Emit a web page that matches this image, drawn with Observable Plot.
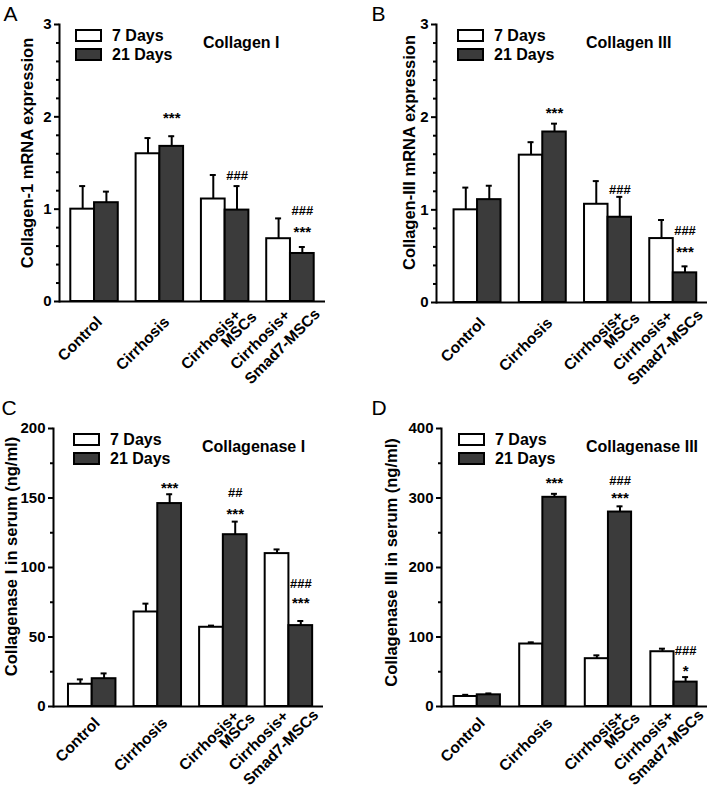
<!DOCTYPE html>
<html><head><meta charset="utf-8">
<script src="https://cdn.jsdelivr.net/npm/d3@7"></script>
<script src="https://cdn.jsdelivr.net/npm/@observablehq/plot@0.6"></script>
<style>
body{margin:0;background:#fff;}
#root{position:relative;width:709px;height:788px;overflow:hidden;font-family:"Liberation Sans",Arial,sans-serif;background:#fff;}
.panel{position:absolute;}
.panel svg{position:absolute;left:0;top:0;}
.box{position:absolute;width:27px;height:13px;border:2px solid #000;box-sizing:border-box;}
.lt{position:absolute;font-weight:bold;font-size:16px;line-height:16px;white-space:nowrap;color:#000;}
</style></head><body><div id="root"></div>
<script>
// ---- categories & series ----
const groups = ["Control", "Cirrhosis", "Cirrhosis+\nMSCs", "Cirrhosis+\nSmad7-MSCs"];
const seriesNames = ["7 Days", "21 Days"];

// ---- A: Collagen I mRNA ----
const colIMean7 = [1.00, 1.60, 1.11, 0.68];
const colISem7 = [0.25, 0.17, 0.26, 0.22];
const colIMean21 = [1.07, 1.68, 0.99, 0.52];
const colISem21 = [0.12, 0.11, 0.26, 0.07];
const colISig = [
  {group: "Cirrhosis", label: "***", y: 2.03},
  {group: "Cirrhosis+\nMSCs", label: "###", y: 1.37},
  {group: "Cirrhosis+\nSmad7-MSCs", label: "###", y: 0.99},
  {group: "Cirrhosis+\nSmad7-MSCs", label: "***", y: 0.79}
];
const colITicks = [0, 1, 2, 3];

// ---- B: Collagen III mRNA ----
const colIIIMean7 = [1.00, 1.59, 1.06, 0.69];
const colIIISem7 = [0.24, 0.14, 0.25, 0.20];
const colIIIMean21 = [1.11, 1.84, 0.92, 0.32];
const colIIISem21 = [0.15, 0.09, 0.22, 0.07];
const colIIISig = [
  {group: "Cirrhosis", label: "***", y: 2.09},
  {group: "Cirrhosis+\nMSCs", label: "###", y: 1.23},
  {group: "Cirrhosis+\nSmad7-MSCs", label: "###", y: 0.78},
  {group: "Cirrhosis+\nSmad7-MSCs", label: "***", y: 0.59}
];
const colIIITicks = [0, 1, 2, 3];

// ---- C: Collagenase I serum ----
const caseIMean7 = [16, 68, 57, 110];
const caseISem7 = [3.5, 6, 1.2, 3];
const caseIMean21 = [20, 146, 123.6, 58.2];
const caseISem21 = [3.8, 6.7, 9.4, 3.3];
const caseISig = [
  {group: "Cirrhosis", label: "***", y: 160},
  {group: "Cirrhosis+\nMSCs", label: "##", y: 154.6},
  {group: "Cirrhosis+\nMSCs", label: "***", y: 141},
  {group: "Cirrhosis+\nSmad7-MSCs", label: "###", y: 89},
  {group: "Cirrhosis+\nSmad7-MSCs", label: "***", y: 77.4}
];
const caseITicks = [0, 50, 100, 150, 200];

// ---- D: Collagenase III serum ----
const caseIIIMean7 = [14.4, 89.9, 68.8, 78.8];
const caseIIISem7 = [2.4, 2.4, 4.8, 4.4];
const caseIIIMean21 = [16.8, 301, 279.8, 35.1];
const caseIIISem21 = [2, 5, 8.2, 7.2];
const caseIIISig = [
  {group: "Cirrhosis", label: "***", y: 327},
  {group: "Cirrhosis+\nMSCs", label: "###", y: 325.5},
  {group: "Cirrhosis+\nMSCs", label: "***", y: 305},
  {group: "Cirrhosis+\nSmad7-MSCs", label: "###", y: 81.25},
  {group: "Cirrhosis+\nSmad7-MSCs", label: "*", y: 56.7}
];
const caseIIITicks = [0, 100, 200, 300, 400];

// layout of the rotated category label lines (screen pixel offsets of each line's end from band centre / frame bottom)
const xLabelOffsets = {
  "Control": [[5, 18]],
  "Cirrhosis": [[7, 18]],
  "Cirrhosis+\nMSCs": [[13, 11], [29, 13]],
  "Cirrhosis+\nSmad7-MSCs": [[-3, 11], [27, 10]]
};

const panels = [
  {letter: "A", title: "Collagen I", yLabel: "Collagen-1 mRNA expression",
   m7: colIMean7, s7: colISem7, m21: colIMean21, s21: colISem21, sig: colISig, ticks: colITicks, minorStep: 0.2,
   left: 0, top: 0, w: 354, ml: 59, mr: 29, mt: 24, mb: 93, pi: 0.273, po: 0.173, al: 0.5,
   tdx: -32, tdy: -10, boxL: 75, titleL: 203, letterL: 3, labShift: 0},
  {letter: "B", title: "Collagen III", yLabel: "Collagen-III mRNA expression",
   m7: colIIIMean7, s7: colIIISem7, m21: colIIIMean21, s21: colIIISem21, sig: colIIISig, ticks: colIIITicks, minorStep: 0.2,
   left: 354, top: 0, w: 355, ml: 82, mr: 2, mt: 24, mb: 92, pi: 0.28, po: 0.217, al: 0.62,
   tdx: -27, tdy: -11, boxL: 103, titleL: 232, letterL: 17, labShift: 0},
  {letter: "C", title: "Collagenase I", yLabel: "Collagenase I in serum (ng/ml)",
   m7: caseIMean7, s7: caseISem7, m21: caseIMean21, s21: caseISem21, sig: caseISig, ticks: caseITicks, minorStep: 25,
   left: 0, top: 394, w: 354, ml: 53, mr: 31, mt: 34, mb: 82, pi: 0.276, po: 0.197, al: 0.58,
   tdx: -42, tdy: -11, boxL: 73, titleL: 202, letterL: 1, labShift: -4},
  {letter: "D", title: "Collagenase III", yLabel: "Collagenase III in serum (ng/ml)",
   m7: caseIIIMean7, s7: caseIIISem7, m21: caseIIIMean21, s21: caseIIISem21, sig: caseIIISig, ticks: caseIIITicks, minorStep: 50,
   left: 354, top: 394, w: 355, ml: 87, mr: 2, mt: 34, mb: 82, pi: 0.294, po: 0.175, al: 0.55,
   tdx: -50, tdy: -5, boxL: 104, titleL: 232, letterL: 17, labShift: -4}
];

const root = document.getElementById("root");
const H = 394;
const dark = "#3b3b3b";

for (const cfg of panels) {
  const rows = [];
  groups.forEach((g, i) => {
    rows.push({group: g, series: seriesNames[0], value: cfg.m7[i], err: cfg.m7[i] + cfg.s7[i]});
    rows.push({group: g, series: seriesNames[1], value: cfg.m21[i], err: cfg.m21[i] + cfg.s21[i]});
  });
  const d7 = rows.filter(d => d.series === seriesNames[0]);
  const d21 = rows.filter(d => d.series === seriesNames[1]);
  const xs = d3.scaleBand().domain(groups).range([cfg.ml, cfg.w - cfg.mr])
    .paddingInner(cfg.pi).paddingOuter(cfg.po).align(cfg.al);
  const bw = xs.bandwidth();
  const half = bw / 2, q = bw / 4, cap = 6;
  const yMax = cfg.ticks[cfg.ticks.length - 1];
  const minor = d3.range(0, yMax + 1e-9, cfg.minorStep).filter(v => !cfg.ticks.some(t => Math.abs(t - v) < 1e-6));
  const stars = cfg.sig.filter(d => d.label.startsWith("*"));
  const hashes = cfg.sig.filter(d => d.label.startsWith("#"));

  // rotated category labels, one text mark per line (dx/dy are screen offsets)
  const labelMarks = [];
  for (const g of groups) {
    g.split("\n").forEach((line, li) => {
      const [ox, oy] = xLabelOffsets[g][li];
      labelMarks.push(Plot.text([{group: g, text: line}], {
        x: "group", text: "text", frameAnchor: "bottom", rotate: -45, textAnchor: "end",
        lineAnchor: "middle", dx: ox, dy: oy + cfg.labShift, fontSize: 15.5
      }));
    });
  }

  const svg = Plot.plot({
    width: cfg.w, height: H,
    marginLeft: cfg.ml, marginRight: cfg.mr, marginTop: cfg.mt, marginBottom: cfg.mb,
    x: {domain: groups, paddingInner: cfg.pi, paddingOuter: cfg.po, align: cfg.al, round: false},
    y: {domain: [0, yMax]},
    style: {fontFamily: "'Liberation Sans', Arial, sans-serif", fontWeight: "bold", fontSize: "15px", color: "#000", background: "transparent", overflow: "visible"},
    marks: [
      Plot.barY(d7, {x: "group", y: "value", fill: "#fff", stroke: "#000", strokeWidth: 2, insetRight: half}),
      Plot.barY(d21, {x: "group", y: "value", fill: dark, stroke: "#000", strokeWidth: 2, insetLeft: half}),
      Plot.ruleX(d7, {x: "group", y1: "value", y2: "err", dx: -q, stroke: "#000", strokeWidth: 2}),
      Plot.ruleX(d21, {x: "group", y1: "value", y2: "err", dx: q, stroke: "#000", strokeWidth: 2}),
      Plot.tickY(d7, {x: "group", y: "err", dx: -q, insetLeft: (bw - cap) / 2, insetRight: (bw - cap) / 2, stroke: "#000", strokeWidth: 2}),
      Plot.tickY(d21, {x: "group", y: "err", dx: q, insetLeft: (bw - cap) / 2, insetRight: (bw - cap) / 2, stroke: "#000", strokeWidth: 2}),
      Plot.ruleY([0], {stroke: "#000", strokeWidth: 2}),
      Plot.frame({anchor: "left", stroke: "#000", strokeWidth: 2}),
      Plot.axisY({ticks: cfg.ticks, tickSize: 5, tickPadding: 3, tickFormat: d3.format("d"), fontSize: 15, strokeWidth: 2, label: null}),
      Plot.axisY({ticks: minor, tickSize: 3, tickFormat: () => "", strokeWidth: 2, label: null}),
      Plot.axisX({ticks: [], tickSize: 0, label: null}),
      ...labelMarks,
      Plot.text([cfg.yLabel], {frameAnchor: "left", rotate: -90, textAnchor: "middle", lineAnchor: "middle", dx: cfg.tdx, dy: cfg.tdy, fontSize: 16.5}),
      Plot.text(stars, {x: "group", y: "y", text: "label", dx: q, dy: 4, fontSize: 15}),
      Plot.text(hashes, {x: "group", y: "y", text: "label", dx: q, dy: 1, fontSize: 13}),
      Plot.text([cfg.letter], {frameAnchor: "top-left", textAnchor: "start", lineAnchor: "top",
        dx: cfg.letterL - cfg.ml, dy: 6 - cfg.mt, fontSize: 21, fontWeight: "normal",
        fontFamily: "'Liberation Sans', Arial, sans-serif"})
    ]
  });

  const div = document.createElement("div");
  div.className = "panel";
  div.style.left = cfg.left + "px";
  div.style.top = cfg.top + "px";
  div.style.width = cfg.w + "px";
  div.style.height = H + "px";
  div.appendChild(svg);

  const boxTop = cfg.mt + 5;
  seriesNames.forEach((s, i) => {
    const b = document.createElement("div");
    b.className = "box";
    b.style.left = cfg.boxL + "px";
    b.style.top = (boxTop + i * 19) + "px";
    b.style.background = i === 0 ? "#fff" : dark;
    div.appendChild(b);
    const t = document.createElement("div");
    t.className = "lt";
    t.textContent = s;
    t.style.left = (cfg.boxL + 37) + "px";
    t.style.top = (boxTop + i * 19 - 1) + "px";
    div.appendChild(t);
  });
  const title = document.createElement("div");
  title.className = "lt";
  title.textContent = cfg.title;
  title.style.left = cfg.titleL + "px";
  title.style.top = (cfg.mt + 11) + "px";
  div.appendChild(title);

  root.appendChild(div);
}
</script></body></html>
